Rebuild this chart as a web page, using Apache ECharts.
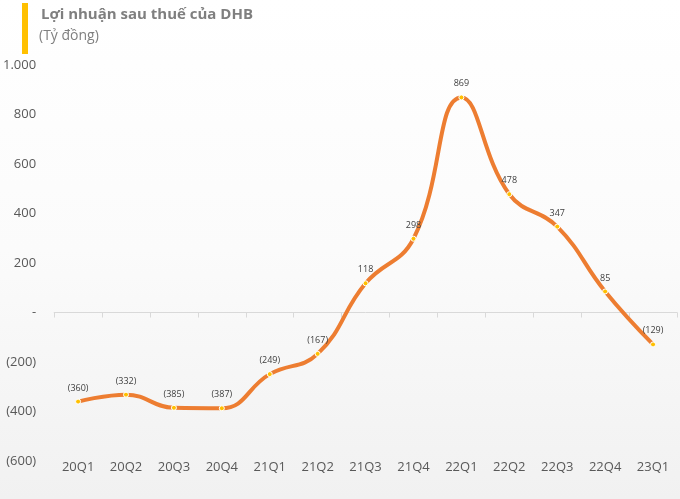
<!DOCTYPE html>
<html><head><meta charset="utf-8">
<script src="https://cdn.jsdelivr.net/npm/echarts@6/dist/echarts.min.js"></script>
<style>
html,body{margin:0;padding:0;}
#c{width:680px;height:499px;background:linear-gradient(to bottom,#ffffff 0%,#fbfbfb 50%,#f1f1f1 100%);}
</style></head>
<body><div id="c"></div>
<script>
const categories = ['20Q1','20Q2','20Q3','20Q4','21Q1','21Q2','21Q3','21Q4','22Q1','22Q2','22Q3','22Q4','23Q1'];
const profit = [-360,-332,-385,-387,-249,-167,118,298,869,478,347,85,-129];
const titleText = 'Lợi nhuận sau thuế của DHB';
const subtitleText = '(Tỷ đồng)';

function fmt(v){
  if (v === 0) return '-';
  const a = Math.abs(v).toString().replace(/\B(?=(\d{3})+(?!\d))/g,'.');
  return v < 0 ? '(' + a + ')' : a;
}

const chart = echarts.init(document.getElementById('c'), null, {renderer:'canvas'});
chart.setOption({
  backgroundColor: 'transparent',
  animation: false,
  graphic: [
    {type:'rect', shape:{x:22,y:3,width:6,height:51}, style:{fill:'#FFC000'}},
    {type:'text', left:41, top:7, style:{text:titleText, font:'bold 15px "Open Sans", Arial, sans-serif', fill:'#7f7f7f'}},
    {type:'text', left:39, top:29, style:{text:subtitleText, font:'14px "Open Sans", Arial, sans-serif', fill:'#7f7f7f'}}
  ],
  grid: {left:54, right:3, top:65, bottom:38, containLabel:false},
  xAxis: {
    type:'category', data:categories, boundaryGap:true,
    axisLine:{onZero:true, lineStyle:{color:'#d9d9d9', width:1}},
    axisTick:{show:true, length:5, lineStyle:{color:'#d9d9d9'}},
    axisLabel:{color:'#595959', fontSize:13, fontFamily:'"Open Sans", Arial, sans-serif', margin:0,
      formatter:v=>v},
    position:'bottom'
  },
  yAxis: {
    type:'value', min:-600, max:1000, interval:200,
    splitLine:{show:false}, axisLine:{show:false}, axisTick:{show:false},
    axisLabel:{color:'#595959', fontSize:13, fontFamily:'"Open Sans", Arial, sans-serif', margin:18, formatter:fmt}
  },
  series: [{
    type:'line', data:profit, smooth:0.45,
    lineStyle:{color:'#ED7D31', width:4},
    itemStyle:{color:'#FFC000', borderColor:'#ffffff', borderWidth:1},
    symbol:'circle', symbolSize:5, showSymbol:true,
    label:{show:true, position:'top', distance:6, color:'#404040', fontSize:9,
      fontFamily:'"Open Sans", Arial, sans-serif', formatter:p=>fmt(p.value)},
    z:3
  }]
});
// place x labels at bottom of grid: compute via offset
chart.setOption({xAxis:{axisLabel:{margin:0}}});
</script></body></html>
